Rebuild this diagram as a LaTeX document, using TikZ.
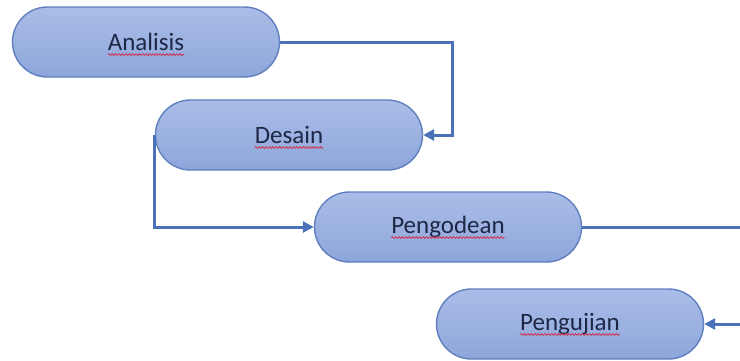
\documentclass[tikz,border=0pt]{standalone}
\usepackage{fontspec}
\setmainfont{Carlito}
\usepackage{xcolor}
\usetikzlibrary{arrows.meta, decorations.pathmorphing}
\definecolor{boxtop}{HTML}{AABDE8}
\definecolor{boxbot}{HTML}{8DA6DA}
\definecolor{boxline}{HTML}{5F7FBE}
\definecolor{flow}{HTML}{4A72B8}
\definecolor{ink}{HTML}{1E2846}
\definecolor{squiggle}{HTML}{D0304F}
\newcommand{\stagefont}{\normalfont\fontsize{25}{30}\selectfont}
% widths of the four words, for the spell-check underlines
\newlength{\wAnalisis}\newlength{\wDesain}
\newlength{\wPengodean}\newlength{\wPengujian}
\AtBeginDocument{%
  \settowidth{\wAnalisis}{\stagefont Analisis}\global\wAnalisis=\wAnalisis
  \settowidth{\wDesain}{\stagefont Desain}\global\wDesain=\wDesain
  \settowidth{\wPengodean}{\stagefont Pengodean}\global\wPengodean=\wPengodean
  \settowidth{\wPengujian}{\stagefont Pengujian}\global\wPengujian=\wPengujian}

\begin{document}
\begin{tikzpicture}[x=1pt, y=-1pt,
  stage/.style={draw=boxline, line width=1.4pt, rounded corners=35pt,
    top color=boxtop, bottom color=boxbot, text=ink,
    minimum width=267pt, minimum height=70pt, font=\stagefont},
  flowline/.style={draw=flow, line width=3pt, sharp corners,
    -{Triangle[length=11pt, width=11pt]}},
  wavy/.style={draw=squiggle, line width=0.8pt, sharp corners, decorate,
    decoration={snake, amplitude=0.9pt, segment length=3.4pt}}]
  \useasboundingbox (0,0) rectangle (740,360);
  % the four stages
  \node[stage] (analisis)  at (146,42)  {Analisis};
  \node[stage] (desain)    at (289,135) {Desain};
  \node[stage] (pengodean) at (448,227) {Pengodean};
  \node[stage] (pengujian) at (570,324) {Pengujian};
  % spell-check underlines
  \draw[wavy] ([xshift=-0.5\wAnalisis, yshift=-4pt]analisis.base)
    -- ([xshift=0.5\wAnalisis, yshift=-4pt]analisis.base);
  \draw[wavy] ([xshift=-0.5\wDesain, yshift=-4pt]desain.base)
    -- ([xshift=0.5\wDesain, yshift=-4pt]desain.base);
  \draw[wavy] ([xshift=-0.5\wPengodean, yshift=-4pt]pengodean.base)
    -- ([xshift=0.5\wPengodean, yshift=-4pt]pengodean.base);
  \draw[wavy] ([xshift=-0.5\wPengujian, yshift=-4pt]pengujian.base)
    -- ([xshift=0.5\wPengujian, yshift=-4pt]pengujian.base);
  % elbow connectors
  \draw[flowline] (analisis.east) -- ++(172,0) |- (desain.east);
  \draw[flowline] (desain.west) |- (pengodean.west);
  \draw[flowline] (pengodean.east) -- ++(164,0) |- (pengujian.east);
\end{tikzpicture}
\end{document}
